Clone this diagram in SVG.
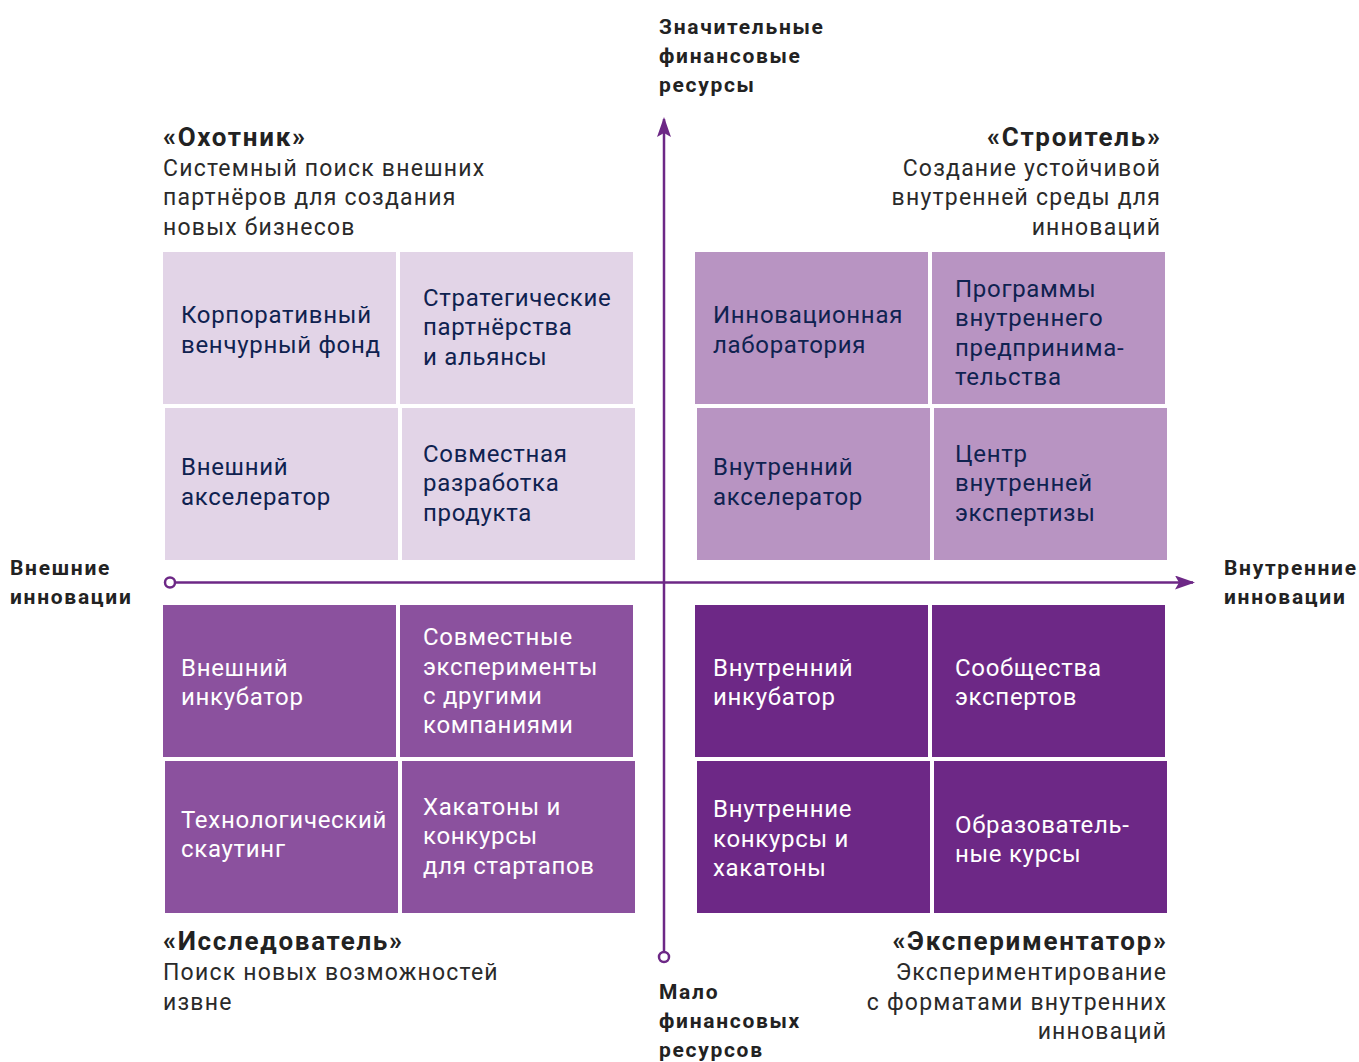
<svg xmlns="http://www.w3.org/2000/svg" width="1359" height="1062" viewBox="0 0 1359 1062">
<style>
.c1{fill:#e2d4e7}.c2{fill:#b894c2}.c3{fill:#8b519e}.c4{fill:#6d2886}
.t{font-family:Roboto,"Liberation Sans",sans-serif;font-size:24px;letter-spacing:0.7px}
.dk{fill:#0f2250}.wt{fill:#ffffff}
.h{font-family:Roboto,"Liberation Sans",sans-serif;font-size:26px;font-weight:bold;fill:#222222;letter-spacing:1.7px}
.s{font-family:Roboto,"Liberation Sans",sans-serif;font-size:23px;fill:#2a2a2a;letter-spacing:1.2px}
.ax{font-family:Roboto,"Liberation Sans",sans-serif;font-size:21px;font-weight:bold;fill:#222222;letter-spacing:1.7px}
.r{text-anchor:end}
.ln{stroke:#6d2886;stroke-width:2.5;fill:none}
</style>
<defs>
<marker id="arr" viewBox="0 0 20 14" refX="18" refY="7" markerWidth="20" markerHeight="14" markerUnits="userSpaceOnUse" orient="auto">
<path d="M0,0 L20,7 L0,14 L4,7 Z" fill="#6d2886"/>
</marker>
</defs>
<rect width="1359" height="1062" fill="#ffffff"/>

<g id="connectors">
<line class="ln" x1="175" y1="582.5" x2="1193" y2="582.5" marker-end="url(#arr)"/>
<circle cx="170" cy="582.5" r="5" fill="#ffffff" stroke="#6d2886" stroke-width="2.5"/>
<line class="ln" x1="664" y1="952" x2="664" y2="119" marker-end="url(#arr)"/>
<circle cx="664" cy="957" r="5" fill="#ffffff" stroke="#6d2886" stroke-width="2.5"/>
</g>

<g id="axis-top"><text class="ax" x="659" y="34">Значительные</text><text class="ax" x="659" y="63">финансовые</text><text class="ax" x="659" y="92">ресурсы</text></g>
<g id="axis-bottom"><text class="ax" x="659" y="999">Мало</text><text class="ax" x="659" y="1028">финансовых</text><text class="ax" x="659" y="1057">ресурсов</text></g>
<g id="axis-left"><text class="ax" x="10" y="575">Внешние</text><text class="ax" x="10" y="604">инновации</text></g>
<g id="axis-right"><text class="ax" x="1224" y="575">Внутренние</text><text class="ax" x="1224" y="604">инновации</text></g>

<g id="head-hunter"><text class="h" x="163" y="146">«Охотник»</text><text class="s" x="163" y="176">Системный поиск внешних</text><text class="s" x="163" y="205">партнёров для создания</text><text class="s" x="163" y="235">новых бизнесов</text></g>
<g id="head-builder"><text class="h r" x="1161.7" y="146">«Строитель»</text><text class="s r" x="1161.2" y="176">Создание устойчивой</text><text class="s r" x="1161.2" y="205">внутренней среды для</text><text class="s r" x="1161.2" y="235">инноваций</text></g>
<g id="head-explorer"><text class="h" x="163" y="950">«Исследователь»</text><text class="s" x="163" y="980">Поиск новых возможностей</text><text class="s" x="163" y="1010">извне</text></g>
<g id="head-experimenter"><text class="h r" x="1167.7" y="950">«Экспериментатор»</text><text class="s r" x="1167.2" y="980">Экспериментирование</text><text class="s r" x="1167.2" y="1010">с форматами внутренних</text><text class="s r" x="1167.2" y="1039">инноваций</text></g>

<g id="n-cvc"><rect class="c1" x="163" y="252" width="233" height="152"/><text class="t dk" x="181" y="323">Корпоративный</text><text class="t dk" x="181" y="353">венчурный фонд</text></g>
<g id="n-strat"><rect class="c1" x="400" y="252" width="233" height="152"/><text class="t dk" x="423" y="306">Стратегические</text><text class="t dk" x="423" y="335">партнёрства</text><text class="t dk" x="423" y="365">и альянсы</text></g>
<g id="n-extacc"><rect class="c1" x="165" y="408" width="233" height="152"/><text class="t dk" x="181" y="475">Внешний</text><text class="t dk" x="181" y="505">акселератор</text></g>
<g id="n-codev"><rect class="c1" x="402" y="408" width="233" height="152"/><text class="t dk" x="423" y="462">Совместная</text><text class="t dk" x="423" y="491">разработка</text><text class="t dk" x="423" y="521">продукта</text></g>

<g id="n-lab"><rect class="c2" x="695" y="252" width="233" height="152"/><text class="t dk" x="713" y="323">Инновационная</text><text class="t dk" x="713" y="353">лаборатория</text></g>
<g id="n-intrap"><rect class="c2" x="932" y="252" width="233" height="152"/><text class="t dk" x="955" y="297">Программы</text><text class="t dk" x="955" y="326">внутреннего</text><text class="t dk" x="955" y="356">предпринима-</text><text class="t dk" x="955" y="385">тельства</text></g>
<g id="n-intacc"><rect class="c2" x="697" y="408" width="233" height="152"/><text class="t dk" x="713" y="475">Внутренний</text><text class="t dk" x="713" y="505">акселератор</text></g>
<g id="n-center"><rect class="c2" x="934" y="408" width="233" height="152"/><text class="t dk" x="955" y="462">Центр</text><text class="t dk" x="955" y="491">внутренней</text><text class="t dk" x="955" y="521">экспертизы</text></g>

<g id="n-extinc"><rect class="c3" x="163" y="605" width="233" height="152"/><text class="t wt" x="181" y="676">Внешний</text><text class="t wt" x="181" y="705">инкубатор</text></g>
<g id="n-coexp"><rect class="c3" x="400" y="605" width="233" height="152"/><text class="t wt" x="423" y="645">Совместные</text><text class="t wt" x="423" y="675">эксперименты</text><text class="t wt" x="423" y="704">с другими</text><text class="t wt" x="423" y="733">компаниями</text></g>
<g id="n-scout"><rect class="c3" x="165" y="761" width="233" height="152"/><text class="t wt" x="181" y="828">Технологический</text><text class="t wt" x="181" y="857">скаутинг</text></g>
<g id="n-hack"><rect class="c3" x="402" y="761" width="233" height="152"/><text class="t wt" x="423" y="815">Хакатоны и</text><text class="t wt" x="423" y="844">конкурсы</text><text class="t wt" x="423" y="874">для стартапов</text></g>

<g id="n-intinc"><rect class="c4" x="695" y="605" width="233" height="152"/><text class="t wt" x="713" y="676">Внутренний</text><text class="t wt" x="713" y="705">инкубатор</text></g>
<g id="n-comm"><rect class="c4" x="932" y="605" width="233" height="152"/><text class="t wt" x="955" y="676">Сообщества</text><text class="t wt" x="955" y="705">экспертов</text></g>
<g id="n-intcomp"><rect class="c4" x="697" y="761" width="233" height="152"/><text class="t wt" x="713" y="817">Внутренние</text><text class="t wt" x="713" y="847">конкурсы и</text><text class="t wt" x="713" y="876">хакатоны</text></g>
<g id="n-edu"><rect class="c4" x="934" y="761" width="233" height="152"/><text class="t wt" x="955" y="833">Образователь-</text><text class="t wt" x="955" y="862">ные курсы</text></g>
</svg>
